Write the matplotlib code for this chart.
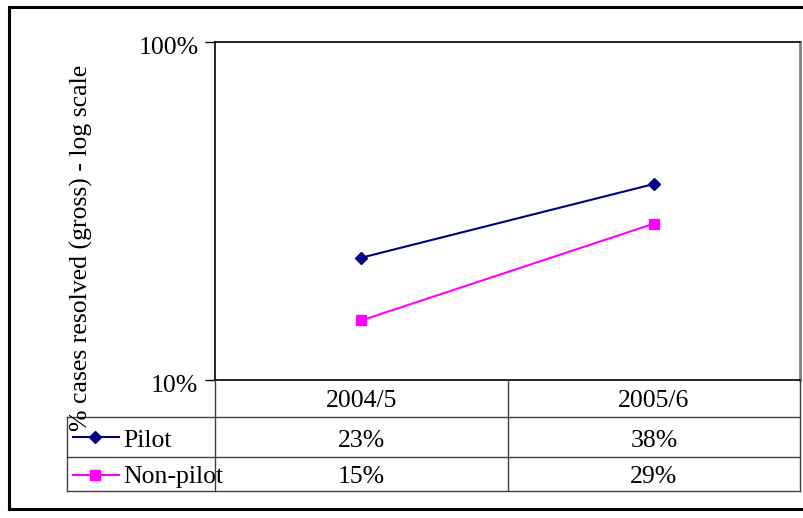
import numpy as np
import matplotlib
matplotlib.use('Agg')
import matplotlib.pyplot as plt
import matplotlib.transforms as mtrans
from matplotlib.lines import Line2D

years = ['2004/5', '2005/6']
pilot = [0.23, 0.38]
non_pilot = [0.15, 0.29]
series_names = ['Pilot', 'Non-pilot']

plt.rcParams['font.family'] = ['Liberation Serif', 'DejaVu Serif']
FS = 18.5

W, H = 804, 518
fig = plt.figure(figsize=(W / 100, H / 100), dpi=100)


def fx(px):
    return px / W


def fy(py):
    return 1 - py / H


# plot area (pixel box 215..800 x 42..380)
ax = fig.add_axes([fx(215), fy(380), (800 - 215) / W, (380 - 42) / H])
xpos = np.arange(len(years)) + 0.5
ax.plot(xpos, pilot, color='#000080', marker='D', markersize=6, lw=1.5)
ax.plot(xpos, non_pilot, color='#FF00FF', marker='s', markersize=6.5, lw=1.5)
ax.set_xlim(0, len(years))
ax.set_yscale('log')
ax.set_ylim(0.1, 1)
ax.set_yticks([0.1, 1])
ax.set_yticklabels(['10%', '100%'], fontsize=FS)
ax.yaxis.set_minor_locator(matplotlib.ticker.NullLocator())
ax.tick_params(axis='y', length=7, width=1, direction='out', pad=5)
# nudge tick labels down a little, like the spreadsheet does
shift = mtrans.ScaledTranslation(0, -3 / 100, fig.dpi_scale_trans)
for lab in ax.get_yticklabels():
    lab.set_transform(lab.get_transform() + shift)
ax.set_xticks([])
for s in ['left', 'top', 'bottom']:
    ax.spines[s].set_color('black')
    ax.spines[s].set_linewidth(1.2)
ax.spines['right'].set_color('#808080')
ax.spines['right'].set_linewidth(2)

fig.text(fx(81), fy(248), '% cases resolved (gross) - log scale', rotation=90,
         ha='center', va='center', fontsize=FS)

# data table below the plot
grid = '#404040'


def hline(y, x0, x1, **kw):
    fig.add_artist(Line2D([fx(x0), fx(x1)], [fy(y), fy(y)], color=kw.get('c', grid), lw=kw.get('lw', 1)))


def vline(x, y0, y1, **kw):
    fig.add_artist(Line2D([fx(x), fx(x)], [fy(y0), fy(y1)], color=kw.get('c', grid), lw=kw.get('lw', 1)))


col_x = [215, 508, 800]
row_y = [380, 417, 457, 491]
for y in row_y[1:]:
    hline(y, 67, 800)
vline(67, 417, 491)
for x in col_x:
    vline(x, 380, 491)

text_y = [401, 441, 477]
for i, yr in enumerate(years):
    cx = (col_x[i] + col_x[i + 1]) / 2
    fig.text(fx(cx), fy(text_y[0]), yr, ha='center', va='center', fontsize=FS)
    fig.text(fx(cx), fy(text_y[1]), f'{round(pilot[i] * 100)}%', ha='center', va='center', fontsize=FS)
    fig.text(fx(cx), fy(text_y[2]), f'{round(non_pilot[i] * 100)}%', ha='center', va='center', fontsize=FS)

# legend keys inside the table
keys = [('#000080', 'D', 6, 437), ('#FF00FF', 's', 6.5, 475)]
for (c, m, ms, y), name, ty in zip(keys, series_names, text_y[1:]):
    fig.add_artist(Line2D([fx(73), fx(119)], [fy(y), fy(y)], color=c, lw=1.5))
    fig.add_artist(Line2D([fx(95)], [fy(y)], color=c, marker=m, markersize=ms, lw=0))
    fig.text(fx(123), fy(ty), name, ha='left', va='center', fontsize=FS)

# outer chart border
hline(7, 9, 804, c='black', lw=2.2)
hline(509, 9, 804, c='black', lw=2.2)
vline(9, 7, 509, c='black', lw=2.2)

fig.savefig('out.png', dpi=100)
